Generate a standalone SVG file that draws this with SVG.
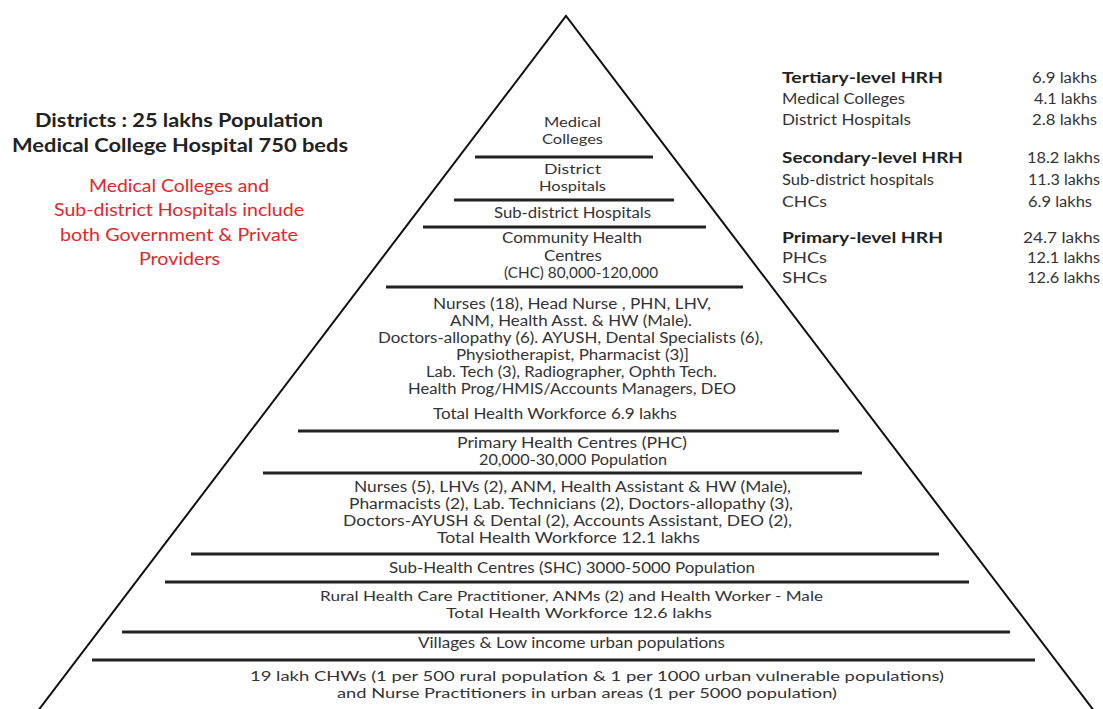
<svg xmlns="http://www.w3.org/2000/svg" width="1103" height="709" viewBox="0 0 1103 709">
<style>
text{font-family:Lato,"Open Sans","Liberation Sans",sans-serif;fill:#333;font-size:15.5px}
.t{font-size:14px}
.b{font-weight:bold;fill:#222}
.hd{font-size:19.5px}
.red{fill:#e3262b;font-size:18px}
.tb{font-size:15.5px}
.div{stroke:#222;stroke-width:3;fill:none}
.edge{stroke:#111;stroke-width:2;fill:none}
</style>
<rect width="1103" height="709" fill="#fff"/>
<g id="outline">
<polyline class="edge" points="31,720 566,16 1101,720"/>
<line class="div" x1="475" y1="157" x2="653" y2="157"/>
<line class="div" x1="454" y1="200" x2="674" y2="200"/>
<line class="div" x1="423" y1="227" x2="706" y2="227"/>
<line class="div" x1="386" y1="287" x2="743" y2="287"/>
<line class="div" x1="298" y1="431" x2="839" y2="431"/>
<line class="div" x1="263" y1="473" x2="862" y2="473"/>
<line class="div" x1="191" y1="554" x2="939" y2="554"/>
<line class="div" x1="165" y1="582" x2="969" y2="582"/>
<line class="div" x1="122" y1="632" x2="1010" y2="632"/>
<line class="div" x1="92" y1="660" x2="1035" y2="660"/>
</g>
<g id="tier-medical-colleges">
<text class="t" x="544" y="127" textLength="57" lengthAdjust="spacingAndGlyphs">Medical</text>
<text class="t" x="542" y="144" textLength="61" lengthAdjust="spacingAndGlyphs">Colleges</text>
</g>
<g id="tier-district-hospitals">
<text class="t" x="544" y="174" textLength="57" lengthAdjust="spacingAndGlyphs">District</text>
<text class="t" x="539" y="191" textLength="67" lengthAdjust="spacingAndGlyphs">Hospitals</text>
</g>
<g id="tier-subdistrict">
<text x="494" y="218" textLength="157" lengthAdjust="spacingAndGlyphs">Sub-district Hospitals</text>
</g>
<g id="tier-chc">
<text x="502" y="243" textLength="140" lengthAdjust="spacingAndGlyphs">Community Health</text>
<text x="544" y="261" textLength="58" lengthAdjust="spacingAndGlyphs">Centres</text>
<text x="504" y="278" textLength="154" lengthAdjust="spacingAndGlyphs">(CHC) 80,000-120,000</text>
</g>
<g id="tier-chc-staff">
<text x="433" y="309" textLength="278" lengthAdjust="spacingAndGlyphs">Nurses (18), Head Nurse , PHN, LHV,</text>
<text x="450" y="326" textLength="242" lengthAdjust="spacingAndGlyphs">ANM, Health Asst. &amp; HW (Male).</text>
<text x="378" y="343" textLength="385" lengthAdjust="spacingAndGlyphs">Doctors-allopathy (6). AYUSH, Dental Specialists (6),</text>
<text x="456" y="360" textLength="233" lengthAdjust="spacingAndGlyphs">Physiotherapist, Pharmacist (3)]</text>
<text x="426" y="377" textLength="291" lengthAdjust="spacingAndGlyphs">Lab. Tech (3), Radiographer, Ophth Tech.</text>
<text x="408" y="394" textLength="328" lengthAdjust="spacingAndGlyphs">Health Prog/HMIS/Accounts Managers, DEO</text>
<text x="433" y="419" textLength="244" lengthAdjust="spacingAndGlyphs">Total Health Workforce 6.9 lakhs</text>
</g>
<g id="tier-phc">
<text x="457" y="448" textLength="230" lengthAdjust="spacingAndGlyphs">Primary Health Centres (PHC)</text>
<text x="479" y="465" textLength="188" lengthAdjust="spacingAndGlyphs">20,000-30,000 Population</text>
</g>
<g id="tier-phc-staff">
<text x="354" y="492" textLength="437" lengthAdjust="spacingAndGlyphs">Nurses (5), LHVs (2), ANM, Health Assistant &amp; HW (Male),</text>
<text x="349" y="509" textLength="444" lengthAdjust="spacingAndGlyphs">Pharmacists (2), Lab. Technicians (2), Doctors-allopathy (3),</text>
<text x="343" y="526" textLength="449" lengthAdjust="spacingAndGlyphs">Doctors-AYUSH &amp; Dental (2), Accounts Assistant, DEO (2),</text>
<text x="437" y="543" textLength="263" lengthAdjust="spacingAndGlyphs">Total Health Workforce 12.1 lakhs</text>
</g>
<g id="tier-shc">
<text x="389" y="573" textLength="366" lengthAdjust="spacingAndGlyphs">Sub-Health Centres (SHC) 3000-5000 Population</text>
</g>
<g id="tier-shc-staff">
<text class="t" x="320" y="601" textLength="503" lengthAdjust="spacingAndGlyphs">Rural Health Care Practitioner, ANMs (2) and Health Worker - Male</text>
<text class="t" x="446" y="618" textLength="266" lengthAdjust="spacingAndGlyphs">Total Health Workforce 12.6 lakhs</text>
</g>
<g id="tier-villages">
<text x="418" y="648" textLength="307" lengthAdjust="spacingAndGlyphs">Villages &amp; Low income urban populations</text>
</g>
<g id="tier-chw">
<text class="t" x="250" y="681" textLength="694" lengthAdjust="spacingAndGlyphs">19 lakh CHWs (1 per 500 rural population &amp; 1 per 1000 urban vulnerable populations)</text>
<text class="t" x="337" y="698" textLength="500" lengthAdjust="spacingAndGlyphs">and Nurse Practitioners in urban areas (1 per 5000 population)</text>
</g>
<g id="district-note">
<text class="b hd" x="35" y="127" textLength="288" lengthAdjust="spacingAndGlyphs">Districts : 25 lakhs Population</text>
<text class="b hd" x="12" y="152" textLength="336" lengthAdjust="spacingAndGlyphs">Medical College Hospital 750 beds</text>
<text class="red" x="89" y="192" textLength="180" lengthAdjust="spacingAndGlyphs">Medical Colleges and</text>
<text class="red" x="54" y="216" textLength="250" lengthAdjust="spacingAndGlyphs">Sub-district Hospitals include</text>
<text class="red" x="60" y="241" textLength="238" lengthAdjust="spacingAndGlyphs">both Government &amp; Private</text>
<text class="red" x="139" y="265" textLength="81" lengthAdjust="spacingAndGlyphs">Providers</text>
</g>
<g id="hrh-table">
<text class="b tb" x="782" y="83" textLength="161" lengthAdjust="spacingAndGlyphs">Tertiary-level HRH</text>
<text class="tb" x="782" y="104" textLength="123" lengthAdjust="spacingAndGlyphs">Medical Colleges</text>
<text class="tb" x="782" y="125" textLength="129" lengthAdjust="spacingAndGlyphs">District Hospitals</text>
<text class="b tb" x="782" y="163" textLength="181" lengthAdjust="spacingAndGlyphs">Secondary-level HRH</text>
<text class="tb" x="782" y="185" textLength="152" lengthAdjust="spacingAndGlyphs">Sub-district hospitals</text>
<text class="tb" x="782" y="207" textLength="45" lengthAdjust="spacingAndGlyphs">CHCs</text>
<text class="b tb" x="782" y="243" textLength="161" lengthAdjust="spacingAndGlyphs">Primary-level HRH</text>
<text class="tb" x="782" y="263" textLength="45" lengthAdjust="spacingAndGlyphs">PHCs</text>
<text class="tb" x="782" y="283" textLength="45" lengthAdjust="spacingAndGlyphs">SHCs</text>
<text class="tb" x="1032" y="83" textLength="65" lengthAdjust="spacingAndGlyphs">6.9 lakhs</text>
<text class="tb" x="1034" y="104" textLength="63" lengthAdjust="spacingAndGlyphs">4.1 lakhs</text>
<text class="tb" x="1032" y="125" textLength="65" lengthAdjust="spacingAndGlyphs">2.8 lakhs</text>
<text class="tb" x="1027" y="163" textLength="73" lengthAdjust="spacingAndGlyphs">18.2 lakhs</text>
<text class="tb" x="1028" y="185" textLength="72" lengthAdjust="spacingAndGlyphs">11.3 lakhs</text>
<text class="tb" x="1028" y="207" textLength="64" lengthAdjust="spacingAndGlyphs">6.9 lakhs</text>
<text class="tb" x="1023" y="243" textLength="77" lengthAdjust="spacingAndGlyphs">24.7 lakhs</text>
<text class="tb" x="1027" y="263" textLength="73" lengthAdjust="spacingAndGlyphs">12.1 lakhs</text>
<text class="tb" x="1027" y="283" textLength="73" lengthAdjust="spacingAndGlyphs">12.6 lakhs</text>
</g>
</svg>
